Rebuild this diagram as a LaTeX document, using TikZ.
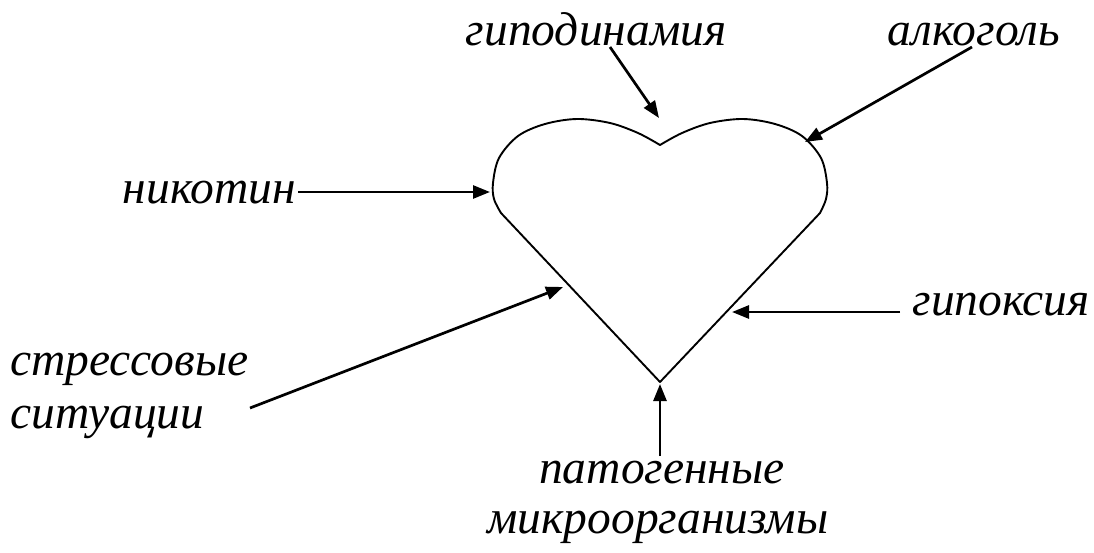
\documentclass[tikz,border=0pt]{standalone}
\usepackage{fontspec}
\setmainfont{Liberation Serif}
\usetikzlibrary{arrows.meta}
\tikzset{
  lbl/.style={font=\fontsize{47.5}{52}\selectfont\itshape, inner sep=0pt, anchor=base},
  arr/.style={-{Triangle[length=17pt,width=13pt]}, line width=2.7pt, color=black},
  heartline/.style={line width=1.9pt, line join=round}
}
\begin{document}
\begin{tikzpicture}[x=1pt, y=-1pt]
  \useasboundingbox (0,0) rectangle (1094,552);
  % heart
  \draw[heartline] (660,382) -- plot[smooth, tension=0.55] coordinates {(501,213) (494,199) (493,183) (499,158) (518,136) (545,124) (577,119) (610,123) (638,133) (660,145)}
    -- plot[smooth, tension=0.55] coordinates {(660,145) (682,133) (710,123) (743,119) (775,124) (802,136) (821,158) (827,183) (826,199) (820,213)} -- cycle;
  % labels
  \node[lbl] (hypodyn) at (596,45) {гиподинамия};
  \node[lbl] (alcohol) at (974,45) {алкоголь};
  \node[lbl, anchor=base east] (nicotine) at (296,203) {никотин};
  \node[lbl, anchor=base west] (stress1) at (10,375) {стрессовые};
  \node[lbl, anchor=base west] (stress2) at (10,428) {ситуации};
  \node[lbl, anchor=base east] (hypox) at (1090,315) {гипоксия};
  \node[lbl] (patho1) at (662,483) {патогенные};
  \node[lbl] (patho2) at (658,533) {микроорганизмы};
  % arrow ends
  \coordinate (hypodynS) at (610,47);  \coordinate (hypodynT) at (659,118);
  \coordinate (alcoholS) at (972,47);  \coordinate (alcoholT) at (805,142);
  \coordinate (nicotineS) at (298,192); \coordinate (nicotineT) at (490,192);
  \coordinate (stressS) at (250,408);  \coordinate (stressT) at (563,287);
  \coordinate (hypoxS) at (900,312);   \coordinate (hypoxT) at (732,312);
  \coordinate (pathoS) at (660,456);   \coordinate (pathoT) at (660,384);
  \draw[arr] (hypodynS) -- (hypodynT);
  \draw[arr] (alcoholS) -- (alcoholT);
  \draw[arr] (nicotineS) -- (nicotineT);
  \draw[arr] (stressS) -- (stressT);
  \draw[arr] (hypoxS) -- (hypoxT);
  \draw[arr] (pathoS) -- (pathoT);
\end{tikzpicture}
\end{document}
